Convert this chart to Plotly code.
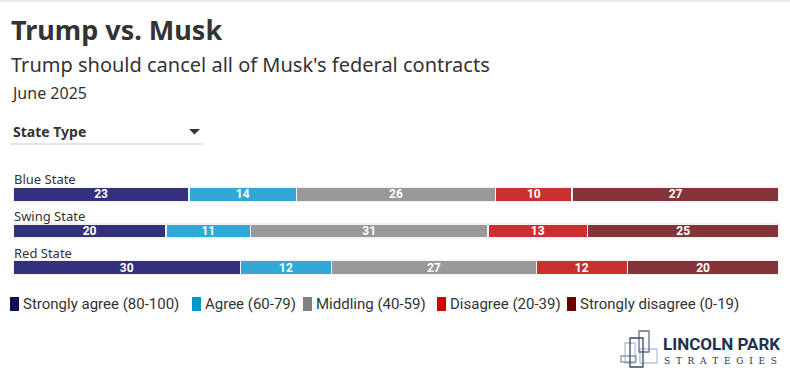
import plotly.graph_objects as go

# ---- data ----
categories = ["Blue State", "Swing State", "Red State"]
series_names = ["Strongly agree (80-100)", "Agree (60-79)", "Middling (40-59)",
                "Disagree (20-39)", "Strongly disagree (0-19)"]
strongly_agree = [23, 20, 30]
agree = [14, 11, 12]
middling = [26, 31, 27]
disagree = [10, 13, 12]
strongly_disagree = [27, 25, 20]
series_values = [strongly_agree, agree, middling, disagree, strongly_disagree]

bar_colors = ["#33317b", "#31a9d4", "#999999", "#c93131", "#843539"]
legend_colors = ["#0d0d5e", "#0099cc", "#808080", "#cc0000", "#6b0000"]

W, H = 790, 381
L, R, T, B = 13, 11, 176, 95
PW, PH = W - L - R, H - T - B

def fx(px):
    return (px - L) / PW

def fy(py):
    return (H - B - py) / PH

fig = go.Figure()
for name, vals, col in zip(series_names, series_values, bar_colors):
    fig.add_trace(go.Bar(
        y=categories, x=vals, name=name, orientation="h",
        marker=dict(color=col, line=dict(color="#f2f2f2", width=1.5)),
        text=[str(v) for v in vals], textposition="inside", textangle=0,
        insidetextanchor="middle", constraintext="none",
        textfont=dict(color="white", size=12, family="Roboto", weight="bold"),
        width=0.38, showlegend=False, hoverinfo="skip",
    ))

fig.update_layout(
    width=W, height=H,
    margin=dict(l=L, r=R, t=T, b=B),
    barmode="stack", barnorm="percent",
    paper_bgcolor="white", plot_bgcolor="white",
    xaxis=dict(range=[0, 100], visible=False, fixedrange=True),
    yaxis=dict(range=[2.5, -0.5], visible=False, fixedrange=True),
    font=dict(family="Noto Sans", color="#333333"),
)

ann = []
shapes = []

# top border
shapes.append(dict(type="line", xref="paper", yref="paper",
                   x0=fx(0), x1=fx(W), y0=fy(1), y1=fy(1),
                   line=dict(color="#e3e3e3", width=1.5)))

# titles
ann.append(dict(text="<b>Trump vs. Musk</b>", xref="paper", yref="paper",
                x=fx(9), y=fy(29), xanchor="left", yanchor="middle", showarrow=False,
                font=dict(size=27, family="Noto Sans", color="#333333")))
ann.append(dict(text="Trump should cancel all of Musk's federal contracts", xref="paper", yref="paper",
                x=fx(9), y=fy(64), xanchor="left", yanchor="middle", showarrow=False,
                font=dict(size=20, family="Noto Sans", color="#333333")))
ann.append(dict(text="June 2025", xref="paper", yref="paper",
                x=fx(9), y=fy(93), xanchor="left", yanchor="middle", showarrow=False,
                font=dict(size=16, family="Noto Sans", color="#333333")))

# dropdown look
ann.append(dict(text="<b>State Type</b>", xref="paper", yref="paper",
                x=fx(11), y=fy(131), xanchor="left", yanchor="middle", showarrow=False,
                font=dict(size=14, family="Noto Sans", color="#333333")))
shapes.append(dict(type="path", xref="paper", yref="paper",
                   path=f"M {fx(189)} {fy(129)} L {fx(200)} {fy(129)} L {fx(194.5)} {fy(134.5)} Z",
                   fillcolor="#333333", line=dict(width=0)))
shapes.append(dict(type="line", xref="paper", yref="paper",
                   x0=fx(10), x1=fx(203), y0=fy(144), y1=fy(144),
                   line=dict(color="#cccccc", width=1)))

# category labels above bars
for c in categories:
    ann.append(dict(text=c, xref="paper", yref="y", x=0, y=c,
                    xanchor="left", yanchor="bottom", yshift=4, xshift=-1,
                    showarrow=False,
                    font=dict(size=13, family="Noto Sans", color="#333333")))

# legend
leg_x = [10, 192, 303, 437, 567]
for name, col, lx in zip(series_names, legend_colors, leg_x):
    shapes.append(dict(type="rect", xref="paper", yref="paper",
                       x0=fx(lx), x1=fx(lx + 9), y0=fy(297), y1=fy(311),
                       fillcolor=col, line=dict(width=0)))
    ann.append(dict(text=name, xref="paper", yref="paper",
                    x=fx(lx + 11), y=fy(304), xanchor="left", yanchor="middle",
                    showarrow=False,
                    font=dict(size=15, family="Roboto", color="#333333")))

# logo
dark = "#34496a"
light = "#b8c3d1"
logo_rects = [
    (625, 343, 635, 363, light),
    (640, 349, 657, 363, light),
    (621, 356, 636, 362, "#8a9bb2"),
    (639, 331, 649, 352, "#5d7090"),
    (630, 338, 643, 367, dark),
]
for x0, y0, x1, y1, col in logo_rects:
    shapes.append(dict(type="rect", xref="paper", yref="paper",
                       x0=fx(x0), x1=fx(x1), y0=fy(y1), y1=fy(y0),
                       line=dict(color=col, width=1.3), fillcolor="rgba(0,0,0,0)"))
ann.append(dict(text="<b>LINCOLN PARK</b>", xref="paper", yref="paper",
                x=fx(661), y=fy(344), xanchor="left", yanchor="middle", showarrow=False,
                font=dict(size=17, family="Roboto", color="#1e3350")))
spaced = "&nbsp;&nbsp;".join("STRATEGIES")
ann.append(dict(text=spaced, xref="paper", yref="paper",
                x=fx(662), y=fy(361), xanchor="left", yanchor="middle", showarrow=False,
                font=dict(size=9, family="DejaVu Serif", color="#1e3350")))

fig.update_layout(annotations=ann, shapes=shapes)
fig.write_html("out.html", config={"displayModeBar": False},
               post_script="document.body.style.margin='0';document.body.style.padding='0';")
